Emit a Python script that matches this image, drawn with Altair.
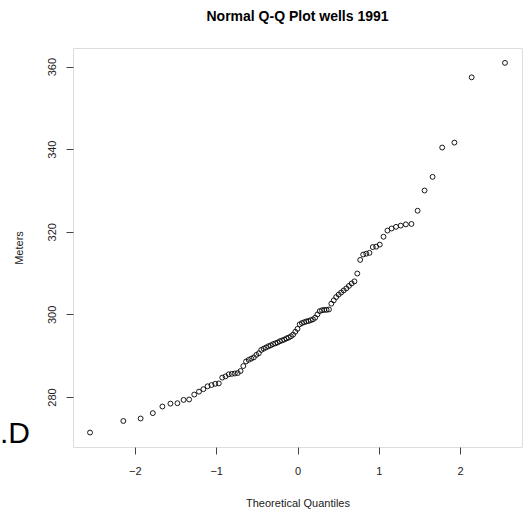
import altair as alt
import pandas as pd

# Sorted sample values (Meters)
meters = [
    271.4, 274.2, 274.8, 276.1, 277.7, 278.4, 278.5, 279.3, 279.4, 280.6,
    281.3, 281.9, 282.6, 282.9, 283.2, 283.3, 284.7, 285.0, 285.5, 285.6,
    285.7, 285.8, 286.3, 287.5, 288.6, 289.0, 289.3, 289.6, 290.2, 290.6,
    291.4, 291.7, 292.0, 292.3, 292.5, 292.8, 293.0, 293.2, 293.5, 293.7,
    293.9, 294.2, 294.4, 294.7, 295.1, 295.8, 296.5, 297.6, 297.9, 298.1,
    298.3, 298.4, 298.6, 298.8, 299.2, 300.0, 300.8, 301.0, 301.1, 301.1,
    301.2, 302.6, 303.4, 304.2, 304.8, 305.3, 305.8, 306.3, 306.9, 307.5,
    308.0, 309.9, 313.2, 314.5, 314.7, 314.9, 316.3, 316.4, 316.9, 318.8,
    320.3, 320.8, 321.2, 321.5, 321.8, 321.9, 325.1, 330.0, 333.3, 340.4,
    341.6, 357.4, 360.9,
]
x_ticks = [-2, -1, 0, 1, 2]
y_ticks = [280, 300, 320, 340, 360]
title_text = "Normal Q-Q Plot wells 1991"
x_title = "Theoretical Quantiles"
y_title = "Meters"
corner_label = [".D"]

df = pd.DataFrame({"meters": meters})
FONT = "Liberation Sans"

points = (
    alt.Chart(df)
    .transform_window(rank="row_number()", sort=[alt.SortField("meters")])
    .transform_joinaggregate(n="count()")
    .transform_calculate(q="quantileNormal((datum.rank - 0.5) / datum.n)")
    .mark_point(shape="circle", filled=False, stroke="black", strokeWidth=0.9, size=24, opacity=1)
    .encode(
        x=alt.X(
            "q:Q",
            scale=alt.Scale(domain=[-2.76, 2.76], nice=False, zero=False),
            axis=alt.Axis(
                title=x_title, values=x_ticks, format="d", grid=False, domain=False,
                tickSize=7, tickColor="#444", labelPadding=11, labelFontSize=11,
                labelColor="#222", labelFont=FONT, titleFont=FONT, titleFontSize=11,
                titleFontWeight="normal", titleColor="#222", titlePadding=21,
            ),
        ),
        y=alt.Y(
            "meters:Q",
            scale=alt.Scale(domain=[267.9, 364.5], nice=False, zero=False),
            axis=alt.Axis(
                title=y_title, values=y_ticks, format="d", grid=False, domain=False,
                tickSize=7, tickColor="#444", labelPadding=9, labelFontSize=11,
                labelAngle=-90, labelAlign="center", labelBaseline="bottom",
                labelColor="#222", labelFont=FONT, titleFont=FONT, titleFontSize=11,
                titleFontWeight="normal", titleColor="#222", titlePadding=22,
            ),
        ),
    )
)

corner = (
    alt.Chart(pd.DataFrame({"t": corner_label}))
    .mark_text(align="left", baseline="alphabetic", fontSize=30, font=FONT, color="black")
    .encode(text="t:N", x=alt.value(-73), y=alt.value(395))
)

chart = (
    alt.layer(points, corner)
    .properties(
        width=449,
        height=399,
        autosize=alt.AutoSizeParams(type="none"),
        padding={"left": 73, "top": 48, "right": 7, "bottom": 66},
        title=alt.Title(title_text, font=FONT, fontSize=14, fontWeight="bold",
                        color="black", anchor="middle", offset=24),
    )
    .configure_view(stroke="#444", strokeWidth=1.2)
    .configure(background="white")
)

chart.save("out.html", embed_options={"renderer": "svg", "actions": False})
